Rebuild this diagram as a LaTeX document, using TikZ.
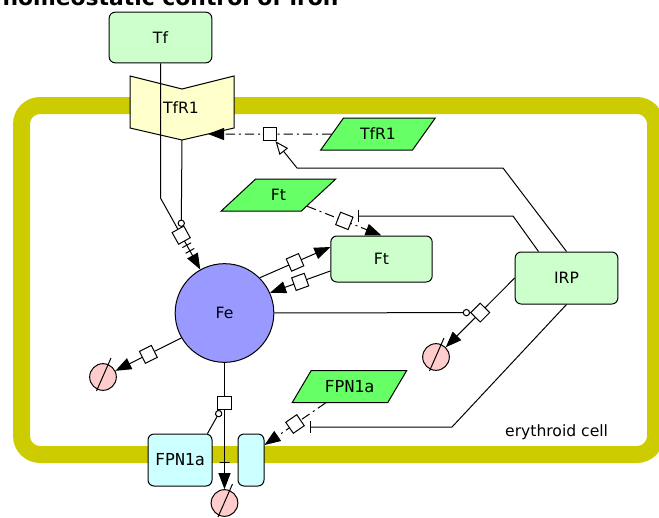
\documentclass[tikz,border=0pt]{standalone}
\usepackage{fontspec}
\setmainfont{DejaVu Sans}
\newfontfamily\monofont{DejaVu Sans Mono}
\usepackage{tikz}
\usetikzlibrary{shapes.geometric,arrows.meta,calc}
\definecolor{boxgreen}{HTML}{CCFFCC}
\definecolor{rnagreen}{HTML}{66FF66}
\definecolor{rcpyellow}{HTML}{FFFFCC}
\definecolor{ironblue}{HTML}{9999FF}
\definecolor{chancyan}{HTML}{CCFFFF}
\definecolor{sinkpink}{HTML}{FFCCCC}
\definecolor{membrane}{HTML}{CCCC00}

\begin{document}
\begin{tikzpicture}[x=0.75pt, y=-0.75pt, line width=0.75pt, font=\fontsize{11.7}{14}\selectfont,
  box/.style={rectangle, rounded corners=4.5pt, draw, fill=#1, align=center},
  mrna/.style={trapezium, trapezium left angle=45, trapezium right angle=135, trapezium stretches=true,
               draw, fill=rnagreen, minimum width=86pt, minimum height=24pt, inner sep=0pt},
  sink/.style={circle, draw, fill=sinkpink, minimum size=20pt, inner sep=0pt},
  proc/.style={rectangle, draw, solid, fill=white, minimum size=10pt, inner sep=0pt, sloped},
  portbar/.style={sloped, draw, solid, inner sep=0pt, minimum width=0pt, minimum height=7.5pt},
  arr/.style={-{Triangle[length=12pt,width=9pt]}},
  stim/.style={-{Triangle[open,length=10pt,width=8pt]}},
  inh/.style={-{Bar[width=9pt]}},
  mod/.style={-{Circle[open,length=5.5pt]}},
  dashdot/.style={dash pattern=on 7pt off 3pt on 1.5pt off 3pt},
  mono/.style={font=\monofont\fontsize{12.4}{15}\selectfont}]
  \useasboundingbox (0,0) rectangle (659,517);
  % Title (cut at the top)
  \node[anchor=base west, inner sep=0pt, font=\fontsize{16.4}{19}\selectfont\bfseries] (title) at (2,5.5)
    {homeostatic control of iron};
  % Cell membrane
  \draw[draw=membrane, line width=12.75pt, rounded corners=14pt] (21.5,105.5) rectangle (655.5,454.5);
  \node[anchor=base east] (cell) at (613,436) {erythroid cell};
  % Receptor
  \draw[fill=rcpyellow] (130,76) -- (182,89) -- (234,76) -- (234,128) -- (182,140) -- (130,128) -- cycle;
  \node (tfr1) at (181,108) {TfR1};
  \coordinate (tfrbot) at (182,140);
  \coordinate (tfrin) at (208,134);
  % Macromolecules
  \node[box=boxgreen, minimum width=77pt, minimum height=38pt] (tf)  at (160.5,37.5) {Tf};
  \node[box=boxgreen, minimum width=76pt, minimum height=34.5pt] (ft) at (381.5,259) {Ft};
  \node[box=boxgreen, minimum width=77pt, minimum height=39pt] (irp) at (566.5,278) {IRP};
  \node[circle, draw, fill=ironblue, minimum size=74pt] (fe) at (224.5,313) {Fe};
  % Transporter
  \node[box=chancyan, mono, minimum width=48pt, minimum height=39pt] (fpnl) at (180,460) {FPN1a};
  \node[box=chancyan, minimum width=19.5pt, minimum height=39pt] (fpnr) at (251,460) {};
  % mRNAs
  \node[mrna] (tfrm) at (378,134) {TfR1};
  \node[mrna] (ftm)  at (278.5,195) {Ft};
  \node[mrna, mono] (fpnm) at (349.5,386.5) {FPN1a};
  % Sinks
  \node[sink] (sinkfe)  at (103,377) {};
  \node[sink] (sinkirp) at (436,357) {};
  \node[sink] (sinkfpn) at (224.5,503) {};
  \foreach \s in {sinkfe,sinkirp,sinkfpn}
    \draw ($(\s)+(-6.5,14)$) -- ($(\s)+(8,-19)$);
  % Bends
  \coordinate (tfbend)  at (160.5,198);
  \coordinate (irpup)   at (503,168);
  \coordinate (irpleft) at (297,168);
  \coordinate (irpft)   at (513,216);
  \coordinate (irpdown) at (452,427);
  % Uptake
  \draw[arr] (tf.south) -- (tfbend) -- node[proc, pos=0.52] (ptf) {}
    node[portbar, pos=0.66] {} node[portbar, pos=0.74] {} (fe);
  \draw[mod] (tfrbot) -- (ptf);
  \draw[arr, dashdot] (tfrm) -- node[proc] (ptfr) {} (tfrin);
  \draw[stim] (irp.north) -- (irpup) -- (irpleft) -- (ptfr);
  % Storage
  \draw[arr] (fe.45) -- node[proc] {} ([yshift=9pt]ft.west);
  \draw[arr] ([yshift=-9pt]ft.west) -- node[proc] {} (fe.24);
  \draw[arr, dashdot] (ftm) -- node[proc] (pft) {} (ft.north);
  \draw[inh] ($(irp.north)+(-28,0)$) -- (irpft) -- ($(pft.east |- irpft)+(7,0)$);
  % Degradation
  \draw[arr] (fe.210) -- node[proc] {} (sinkfe);
  \draw[arr] (irp.west) -- node[proc] (pirp) {} (sinkirp);
  \draw[mod] (fe) -- (pirp);
  % Export
  \draw[arr] (fe.south) -- node[proc, pos=0.32] (pfpn) {} node[portbar, pos=0.79] {} (sinkfpn);
  \draw[mod] ($(fpnl.north east)+(-5,0)$) -- (pfpn);
  \draw[arr, dashdot] (fpnm) -- node[proc] (pfpnm) {} ($(fpnr.east)+(0,-15)$);
  \draw[inh] (irp.south) -- (irpdown) -- ($(pfpnm.east |- irpdown)+(9,0)$);
\end{tikzpicture}
\end{document}
